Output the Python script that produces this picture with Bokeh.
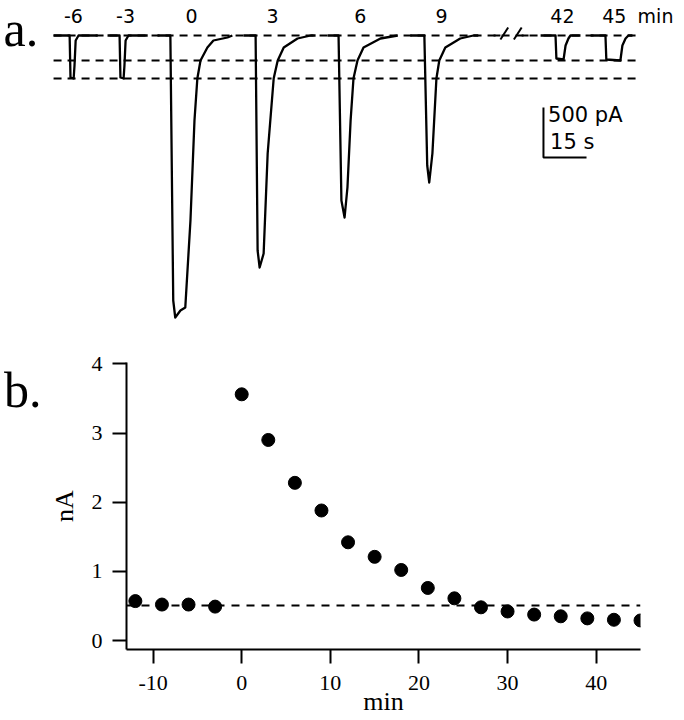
from bokeh.plotting import figure
from bokeh.models import Range1d, FixedTicker, Label, LinearAxis, PrintfTickFormatter, CustomJSTickFormatter
from bokeh.embed import file_html
from bokeh.resources import INLINE

# ---------------- Panel a: current traces (time in s, current in pA) ----------------
trace_labels = ["-6", "-3", "0", "3", "6", "9", "42", "45"]
# position of each trace's onset along the display axis (s)
trace_onsets = [21.3, 38.7, 56.4, 86.1, 115.0, 144.9, 190.6, 208.0]
# label centre positions along the display axis (s)
label_pos = [22.6, 40.8, 63.8, 92.0, 122.6, 150.9, 193.0, 211.1]

t_m6 = [-5.6, 0, 0.3, 1.4, 1.7, 2.1, 3.1, 9.8]
i_m6 = [0, 0, -420, -430, -300, -50, 0, 0]
t_m3 = [-4.2, 0, 0.3, 1.4, 1.7, 2.1, 3.1, 9.8]
i_m3 = [0, 0, -420, -430, -300, -50, 0, 0]
t_0 = [-4.5, 0, 1.0, 1.7, 3.5, 5.2, 7.0, 8.4, 9.4, 10.5, 12.9, 15.0, 19.9, 21.6]
i_0 = [0, 0, -2650, -2820, -2750, -2720, -1850, -850, -430, -250, -120, -50, -20, 0]
t_3 = [-4.2, 0, 0.7, 1.4, 2.8, 4.2, 6.3, 7.7, 9.8, 14.6, 19.2, 20.9]
i_3 = [0, 0, -2150, -2320, -2180, -1180, -430, -250, -120, -30, 0, 0]
t_6 = [-3.8, 0, 1.0, 2.1, 3.1, 4.2, 5.2, 6.6, 8.7, 14.6, 20.6]
i_6 = [0, 0, -1650, -1820, -1520, -850, -430, -250, -120, -30, 0]
t_9 = [-4.9, 0, 1.0, 1.7, 2.8, 4.2, 5.2, 7.3, 12.5, 17.1, 18.8]
i_9 = [0, 0, -1300, -1470, -1180, -430, -250, -120, -30, 0, 0]
t_42 = [-5.2, 0, 0.3, 2.8, 3.5, 4.5, 5.2, 8.7]
i_42 = [0, 0, -230, -240, -100, -30, 0, 0]
t_45 = [-5.2, 0, 0.3, 5.2, 5.9, 7.0, 8.0, 9.4]
i_45 = [0, 0, -240, -250, -100, -30, 0, 0]

trace_t = [t_m6, t_m3, t_0, t_3, t_6, t_9, t_42, t_45]
trace_i = [i_m6, i_m3, i_0, i_3, i_6, i_9, i_42, i_45]

ref_levels = [0, -250, -430]          # dashed reference lines (pA)
ref_span = [15.7, 218.8]              # display extent of reference lines (s)
break_pos = 174.9                     # axis break "//" (s)
scalebar_x = 186.4                    # s
scalebar_top = -720                   # pA
scalebar_pA = 500
scalebar_s = 15

PX_PER_S = 2.87
W = 684
HA = 322
HB = 398

pa = figure(width=W, height=HA, output_backend="svg", toolbar_location=None,
            x_range=Range1d(-8 / PX_PER_S, (W - 8) / PX_PER_S), y_range=Range1d(350 - HA * 10, 350),
            x_axis_location=None, y_axis_location=None, min_border=0)
pa.grid.visible = False
pa.outline_line_color = None
pa.background_fill_color = "white"
pa.border_fill_color = "white"

for lev in ref_levels:
    pa.line(ref_span, [lev, lev], line_color="black", line_width=2, line_dash="8 6")

for t, cur, on in zip(trace_t, trace_i, trace_onsets):
    pa.line([on + v for v in t], cur, line_color="black", line_width=2.3, line_join="round")

# break mark
pa.multi_line(
    xs=[[break_pos - 5.9, break_pos - 3.5], [break_pos - 3.5, break_pos - 0.8],
        [break_pos + 1.2, break_pos + 3.9], [break_pos + 3.9, break_pos + 6.3]],
    ys=[[0, 0], [-40, 80], [-40, 80], [0, 0]],
    line_color="black", line_width=2)

# scale bar
pa.line([scalebar_x, scalebar_x, scalebar_x + scalebar_s],
        [scalebar_top, scalebar_top - scalebar_pA, scalebar_top - scalebar_pA],
        line_color="black", line_width=2)
pa.add_layout(Label(x=scalebar_x + 1.6, y=scalebar_top - 70, text=f"{scalebar_pA} pA",
                    text_font="DejaVu Sans", text_font_size="21px", text_color="black",
                    text_baseline="alphabetic"))
pa.add_layout(Label(x=scalebar_x + 2.3, y=scalebar_top - 340, text=f"{scalebar_s} s",
                    text_font="DejaVu Sans", text_font_size="21px", text_color="black",
                    text_baseline="alphabetic"))

for lab, xp in zip(trace_labels, label_pos):
    pa.add_layout(Label(x=xp, y=195, text=lab, text_font="DejaVu Sans", text_font_size="19px",
                        text_color="black", text_align="center", text_baseline="alphabetic"))
pa.add_layout(Label(x=label_pos[-1] + 8.1, y=195, text="min", text_font="DejaVu Sans",
                    text_font_size="19px", text_color="black", text_align="left",
                    text_baseline="alphabetic"))
pa.add_layout(Label(x=-1.7, y=70, text="a.", text_font="Liberation Serif", text_font_size="50px",
                    text_color="black", text_baseline="alphabetic"))

# ---------------- Panel b: peak current vs time ----------------
time_min = [-12, -9, -6, -3, 0, 3, 6, 9, 12, 15, 18, 21, 24, 27, 30, 33, 36, 39, 42, 45]
peak_nA = [0.57, 0.52, 0.52, 0.49, 3.56, 2.90, 2.28, 1.88, 1.42, 1.21, 1.02, 0.76, 0.61,
           0.48, 0.42, 0.375, 0.35, 0.32, 0.30, 0.29]
baseline_nA = 0.505
x_ticks = [-10, 0, 10, 20, 30, 40]
y_ticks = [0, 1, 2, 3, 4]

pb = figure(width=W, height=HB, output_backend="svg", toolbar_location=None,
            x_range=Range1d(-13, 45), y_range=Range1d(-0.13, 4.02),
            min_border_left=126, min_border_right=44, min_border_top=40, min_border_bottom=71)
pb.grid.visible = False
pb.outline_line_color = None

pb.line([-13, 45], [baseline_nA, baseline_nA], line_color="black", line_width=2, line_dash="8 7")
pb.scatter(time_min, peak_nA, size=13, color="black")

for ax in (pb.xaxis[0], pb.yaxis[0]):
    ax.axis_line_width = 2
    ax.major_tick_line_width = 2
    ax.major_tick_in = 0
    ax.major_tick_out = 14
    ax.minor_tick_line_color = None
    ax.major_label_text_font = "Liberation Serif"
    ax.major_label_text_font_size = "22px"
    ax.major_label_text_color = "black"
    ax.axis_label_text_font = "Liberation Serif"
    ax.axis_label_text_font_size = "26px"
    ax.axis_label_text_font_style = "normal"
    ax.axis_label_text_color = "black"
    ax.formatter = PrintfTickFormatter(format="%d")

pb.xaxis.ticker = FixedTicker(ticks=x_ticks)
pb.yaxis.ticker = FixedTicker(ticks=y_ticks)
pb.xaxis.axis_label = "min"
pb.yaxis.axis_label = "nA"
pb.xaxis.major_label_standoff = 12
pb.xaxis.axis_label_standoff = -6
pb.yaxis.major_label_standoff = 10
pb.yaxis.axis_label_standoff = 10

# panel letter "b." carried by an outer, line-less axis
panel_b_axis = LinearAxis(ticker=FixedTicker(ticks=[3.62]),
                          formatter=CustomJSTickFormatter(code="return 'b.'"),
                          axis_line_color=None, major_tick_line_color=None,
                          minor_tick_line_color=None, major_tick_in=0, major_tick_out=0,
                          major_label_standoff=5, major_label_text_font="Liberation Serif",
                          major_label_text_font_size="50px", major_label_text_color="black")
pb.add_layout(panel_b_axis, "left")

open("out.html", "w").write(file_html([pa, pb], INLINE))
